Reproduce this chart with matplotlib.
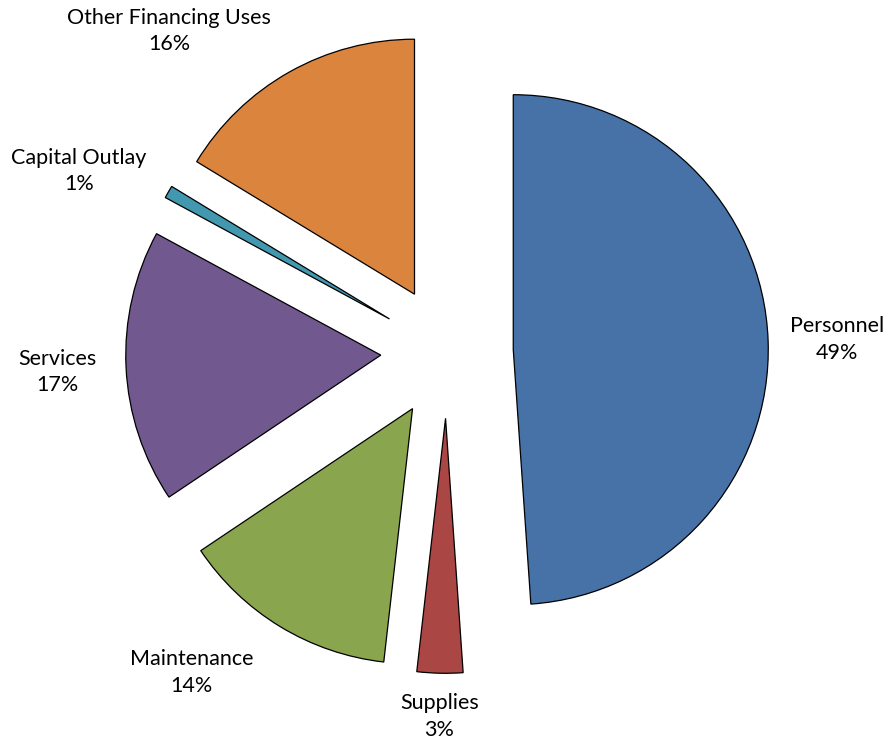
import numpy as np
import matplotlib
matplotlib.use("Agg")
import matplotlib.pyplot as plt

categories = ["Personnel", "Supplies", "Maintenance", "Services", "Capital Outlay", "Other Financing Uses"]
values = [48.9, 2.9, 13.8, 17.3, 0.8, 16.3]
percent_labels = ["49%", "3%", "14%", "17%", "1%", "16%"]
colors = ["#4672A8", "#AA4643", "#89A54E", "#71588F", "#4198AF", "#DB843D"]

# layout: label offsets (distance in radii, angle in degrees) from each exploded wedge centre
label_dist = [1.27, 1.17, 1.35, 1.27, 1.35, 1.41]
label_ang = [1.8, -91.2, -130.0, -177.0, 154.5, 133.0]

W, H = 887, 744
R_PX = 255.0
CX, CY = 447.0, 352.0
EXPLODE = 0.26

fig = plt.figure(figsize=(W / 100, H / 100), dpi=100)
ax = fig.add_axes([0, 0, 1, 1])

wedges, _ = ax.pie(values, colors=colors, startangle=90, counterclock=False,
                   explode=[EXPLODE] * len(values), radius=1.0, center=(0, 0),
                   wedgeprops=dict(edgecolor="black", linewidth=0.9),
                   frame=True)
ax.set_aspect("equal")
ax.set_xlim(-CX / R_PX, (W - CX) / R_PX)
ax.set_ylim((CY - H) / R_PX, CY / R_PX)
ax.axis("off")

for w, cat, pl, d, a in zip(wedges, categories, percent_labels, label_dist, label_ang):
    cx, cy = w.center
    t = np.deg2rad(a)
    ax.text(cx + d * np.cos(t), cy + d * np.sin(t), f"{cat}\n{pl}",
            ha="center", va="center", fontsize=15.5, family="Lato",
            linespacing=1.4, color="black")

fig.savefig("out.png", dpi=100)
